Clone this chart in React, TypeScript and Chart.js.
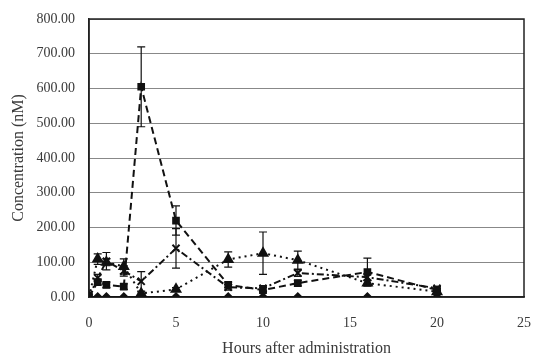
import React, { useEffect, useRef } from "react";
import { Chart, registerables } from "chart.js";

Chart.register(...registerables);

const hours = [0, 0.5, 1, 2, 3, 5, 8, 10, 12, 16, 20];
const diamondVals = [0, 0, 0, 0, 0, 0, 0, 0, 0, 0, 0];
const squareVals = [0, 43, 35, 30, 605, 220, 35, 20, 40, 72, 20];
const squareErr = [0, 8, 8, 8, 115, 42, 8, 8, 8, 40, 5];
const triangleVals = [0, 109, 100, 88, 10, 22, 108, 126, 106, 40, 15];
const triangleErr = [0, 15, 10, 22, 5, 5, 22, 61, 26, 8, 5];
const crossVals = [0, 55, 103, 75, 45, 140, 28, 25, 69, 57, 25];
const crossErr = [0, 10, 25, 15, 28, 57, 8, 8, 10, 10, 5];
const diamondErr = [0, 0, 0, 0, 0, 0, 0, 0, 0, 0, 0];
const xTicks = [0, 5, 10, 15, 20, 25];

const FONT = "'Liberation Serif', 'Times New Roman', serif";

const toPts = (vals: number[]) => hours.map((h, i) => ({ x: h, y: vals[i] }));

const errorBarPlugin = {
  id: "errorBars",
  afterDatasetsDraw(chart: any) {
    const ctx = chart.ctx;
    const ys = chart.scales.y;
    ctx.save();
    ctx.strokeStyle = "#111";
    ctx.lineWidth = 1.2;
    chart.data.datasets.forEach((ds: any, di: number) => {
      const errs: number[] = ds.errors || [];
      const meta = chart.getDatasetMeta(di);
      meta.data.forEach((pt: any, i: number) => {
        const e = errs[i];
        if (!e) return;
        const v = ds.data[i].y;
        const x = pt.x;
        const yT = ys.getPixelForValue(v + e);
        const yB = ys.getPixelForValue(Math.max(0, v - e));
        ctx.beginPath();
        ctx.moveTo(x, yT);
        ctx.lineTo(x, yB);
        ctx.moveTo(x - 4, yT);
        ctx.lineTo(x + 4, yT);
        ctx.moveTo(x - 4, yB);
        ctx.lineTo(x + 4, yB);
        ctx.stroke();
      });
    });
    ctx.restore();
  },
};

const framePlugin = {
  id: "frame",
  beforeDatasetsDraw(chart: any) {
    const { ctx, chartArea } = chart;
    ctx.save();
    ctx.strokeStyle = "#222";
    ctx.lineWidth = 1.5;
    ctx.strokeRect(chartArea.left, chartArea.top, chartArea.right - chartArea.left, chartArea.bottom - chartArea.top);
    ctx.restore();
  },
};

export default function App() {
  const ref = useRef<HTMLCanvasElement | null>(null);
  useEffect(() => {
    if (!ref.current) return;
    const chart = new Chart(ref.current, {
      type: "line",
      data: {
        datasets: [
          {
            label: "diamond",
            data: toPts(diamondVals),
            errors: diamondErr,
            borderColor: "#111",
            backgroundColor: "#111",
            borderWidth: 1.5,
            pointStyle: "rectRot",
            pointRadius: 4,
          } as any,
          {
            label: "square",
            data: toPts(squareVals),
            errors: squareErr,
            borderColor: "#111",
            backgroundColor: "#111",
            borderWidth: 2,
            borderDash: [7, 4],
            pointStyle: "rect",
            pointRadius: 4,
          } as any,
          {
            label: "triangle",
            data: toPts(triangleVals),
            errors: triangleErr,
            borderColor: "#111",
            backgroundColor: "#111",
            borderWidth: 2,
            borderDash: [2, 4],
            pointStyle: "triangle",
            pointRadius: 5,
          } as any,
          {
            label: "cross",
            data: toPts(crossVals),
            errors: crossErr,
            borderColor: "#111",
            backgroundColor: "#111",
            borderWidth: 2,
            borderDash: [7, 3, 2, 3],
            pointStyle: "crossRot",
            pointRadius: 5,
            pointBorderWidth: 2,
          } as any,
        ],
      },
      options: {
        animation: false,
        responsive: false,
        maintainAspectRatio: false,
        layout: { padding: { top: 19, right: 10, left: 0, bottom: 0 } },
        plugins: { legend: { display: false }, tooltip: { enabled: false } },
        elements: { line: { tension: 0 } },
        scales: {
          x: {
            type: "linear",
            min: 0,
            max: 25,
            afterBuildTicks: (s: any) => {
              s.ticks = xTicks.map((v) => ({ value: v }));
            },
            afterFit: (s: any) => {
              s.height = 59;
              s.paddingRight = 0;
              s.paddingLeft = 0;
            },
            grid: { display: false, drawTicks: false },
            border: { display: true, color: "#222", width: 1.5 },
            ticks: { color: "#3a3a3a", padding: 18, font: { family: FONT, size: 14 } },
            title: {
              display: true,
              text: "Hours after administration",
              color: "#3a3a3a",
              font: { family: FONT, size: 16 },
              padding: { top: 4, bottom: -2 },
            },
          },
          y: {
            min: 0,
            max: 800,
            afterFit: (s: any) => {
              s.width = 89;
              s.paddingTop = 0;
              s.paddingBottom = 0;
            },
            grid: { color: "#888", lineWidth: 1, drawTicks: false },
            border: { display: true, color: "#222", width: 1.5 },
            ticks: {
              stepSize: 100,
              color: "#3a3a3a",
              padding: 14,
              font: { family: FONT, size: 14 },
              callback: (v: any) => Number(v).toFixed(2),
            },
            title: {
              display: true,
              text: "Concentration (nM)",
              color: "#3a3a3a",
              font: { family: FONT, size: 16 },
              padding: { bottom: 0, top: 9 },
            },
          },
        },
      } as any,
      plugins: [framePlugin, errorBarPlugin],
    });
    return () => chart.destroy();
  }, []);
  return (
    <div style={{ position: "fixed", left: 0, top: 0, width: 534, height: 356, background: "#fff" }}>
      <canvas ref={ref} width={534} height={356} style={{ width: 534, height: 356 }} />
    </div>
  );
}
